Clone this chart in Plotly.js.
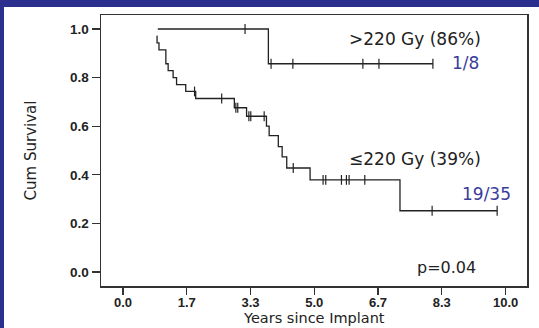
<!DOCTYPE html>
<html>
<head>
<meta charset="utf-8">
<script src="https://cdn.plot.ly/plotly-3.0.1.min.js"></script>
<style>
  html, body { margin: 0; padding: 0; background: #2b2f8e; width: 539px; height: 328px; overflow: hidden; }
  #chart { position: absolute; left: 4px; top: 7px; width: 535px; height: 321px; background: #fff; }
</style>
</head>
<body>
<div id="chart"></div>
<script>
// >220 Gy group: Kaplan-Meier step points (years, cumulative survival)
const hiTimes = [0.91, 3.80, 8.10];
const hiSurv  = [1.000, 0.857, 0.857];
const hiCensored = [3.19, 3.87, 4.44, 6.27, 6.69, 8.10];

// <=220 Gy group
const loTimes = [0.88, 0.89, 0.94, 1.12, 1.18, 1.31, 1.40, 1.64, 1.90, 2.91, 3.23, 3.75, 3.82, 4.06, 4.16, 4.28, 4.89, 7.24, 9.78];
const loSurv  = [0.971, 0.943, 0.914, 0.857, 0.829, 0.800, 0.771, 0.743, 0.714, 0.676, 0.641, 0.600, 0.561, 0.516, 0.474, 0.428, 0.379, 0.252, 0.252];
const loCensored = [1.87, 2.58, 2.95, 3.00, 3.29, 3.34, 3.69, 4.45, 5.23, 5.30, 5.71, 5.84, 5.91, 6.32, 8.08, 9.78];

const xTickVals = [0, 5/3, 10/3, 5, 20/3, 25/3, 10];
const xTickText = ['0.0', '1.7', '3.3', '5.0', '6.7', '8.3', '10.0'];
const yTickVals = [0, 0.2, 0.4, 0.6, 0.8, 1.0];
const yTickText = ['0.0', '0.2', '0.4', '0.6', '0.8', '1.0'];

const labels = {
  xTitle: 'Years since Implant', yTitle: 'Cum Survival',
  hiName: '>220 Gy (86%)', hiCount: '1/8',
  loName: '\u2264220 Gy (39%)', loCount: '19/35',
  pValue: 'p=0.04'
};

function stepAt(times, surv, t) {
  let v = surv[0];
  for (let i = 0; i < times.length; i++) { if (times[i] <= t + 1e-9) v = surv[i]; }
  return v;
}

const ink = '#222222';
const lineStyle = { color: ink, width: 1.3, shape: 'hv' };
const censorMarker = { symbol: 'line-ns-open', size: 7, color: ink, line: { color: ink, width: 1.2 } };

const traces = [
  { x: hiTimes, y: hiSurv, mode: 'lines', line: lineStyle, hoverinfo: 'skip' },
  { x: loTimes, y: loSurv, mode: 'lines', line: lineStyle, hoverinfo: 'skip' },
  { x: hiCensored, y: hiCensored.map(t => stepAt(hiTimes, hiSurv, t)), mode: 'markers', marker: censorMarker },
  { x: loCensored, y: loCensored.map(t => stepAt(loTimes, loSurv, t)), mode: 'markers', marker: censorMarker }
];

const annFont = { family: 'DejaVu Sans, sans-serif', size: 17, color: ink };
const blueFont = { family: 'DejaVu Sans, sans-serif', size: 17, color: '#3a3c9c' };
const tickFont = { family: 'Liberation Sans, Arial, sans-serif', size: 13.5, color: ink, weight: 'bold' };
const xTickFont = { family: 'Liberation Sans, Arial, sans-serif', size: 13, color: ink, weight: 'bold' };

const layout = {
  width: 535, height: 321,
  margin: { l: 97, r: 12, t: 8, b: 42 },
  paper_bgcolor: '#ffffff', plot_bgcolor: '#ffffff',
  showlegend: false,
  xaxis: {
    range: [-0.575, 10.56], tickvals: xTickVals, ticktext: xTickText,
    showgrid: false, zeroline: false, showline: true, mirror: true,
    linecolor: '#333', linewidth: 1.5,
    ticks: 'outside', ticklen: 7, tickwidth: 1.3, tickcolor: '#333',
    ticklabelstandoff: -3,
    tickfont: xTickFont
  },
  yaxis: {
    range: [-0.0576, 1.0576], tickvals: yTickVals, ticktext: yTickText,
    showgrid: false, zeroline: false, showline: true, mirror: true,
    linecolor: '#333', linewidth: 1.5,
    ticks: 'outside', ticklen: 8, tickwidth: 1.3, tickcolor: '#333',
    tickfont: tickFont,
    title: { text: labels.yTitle, font: { family: 'DejaVu Sans, sans-serif', size: 15, color: ink }, standoff: 30 }
  },
  annotations: [
    { x: 0.5, y: -0.155, xref: 'paper', yref: 'paper', text: labels.xTitle, showarrow: false, xanchor: 'center', yanchor: 'bottom', font: { family: 'DejaVu Sans, sans-serif', size: 14.5, color: ink } },
    { x: 5.85, y: 0.957, xref: 'x', yref: 'y', text: labels.hiName, showarrow: false, xanchor: 'left', yanchor: 'middle', font: annFont },
    { x: 8.54, y: 0.86, xref: 'x', yref: 'y', text: labels.hiCount, showarrow: false, xanchor: 'left', yanchor: 'middle', font: blueFont },
    { x: 5.85, y: 0.465, xref: 'x', yref: 'y', text: labels.loName, showarrow: false, xanchor: 'left', yanchor: 'middle', font: annFont },
    { x: 10.19, y: 0.321, xref: 'x', yref: 'y', text: labels.loCount, showarrow: false, xanchor: 'right', yanchor: 'middle', font: blueFont },
    { x: 7.63, y: 0.02, xref: 'x', yref: 'y', text: labels.pValue, showarrow: false, xanchor: 'left', yanchor: 'middle', font: { family: 'DejaVu Sans, sans-serif', size: 16, color: ink } }
  ]
};

Plotly.newPlot('chart', traces, layout, { displayModeBar: false, staticPlot: true });
</script>
</body>
</html>
